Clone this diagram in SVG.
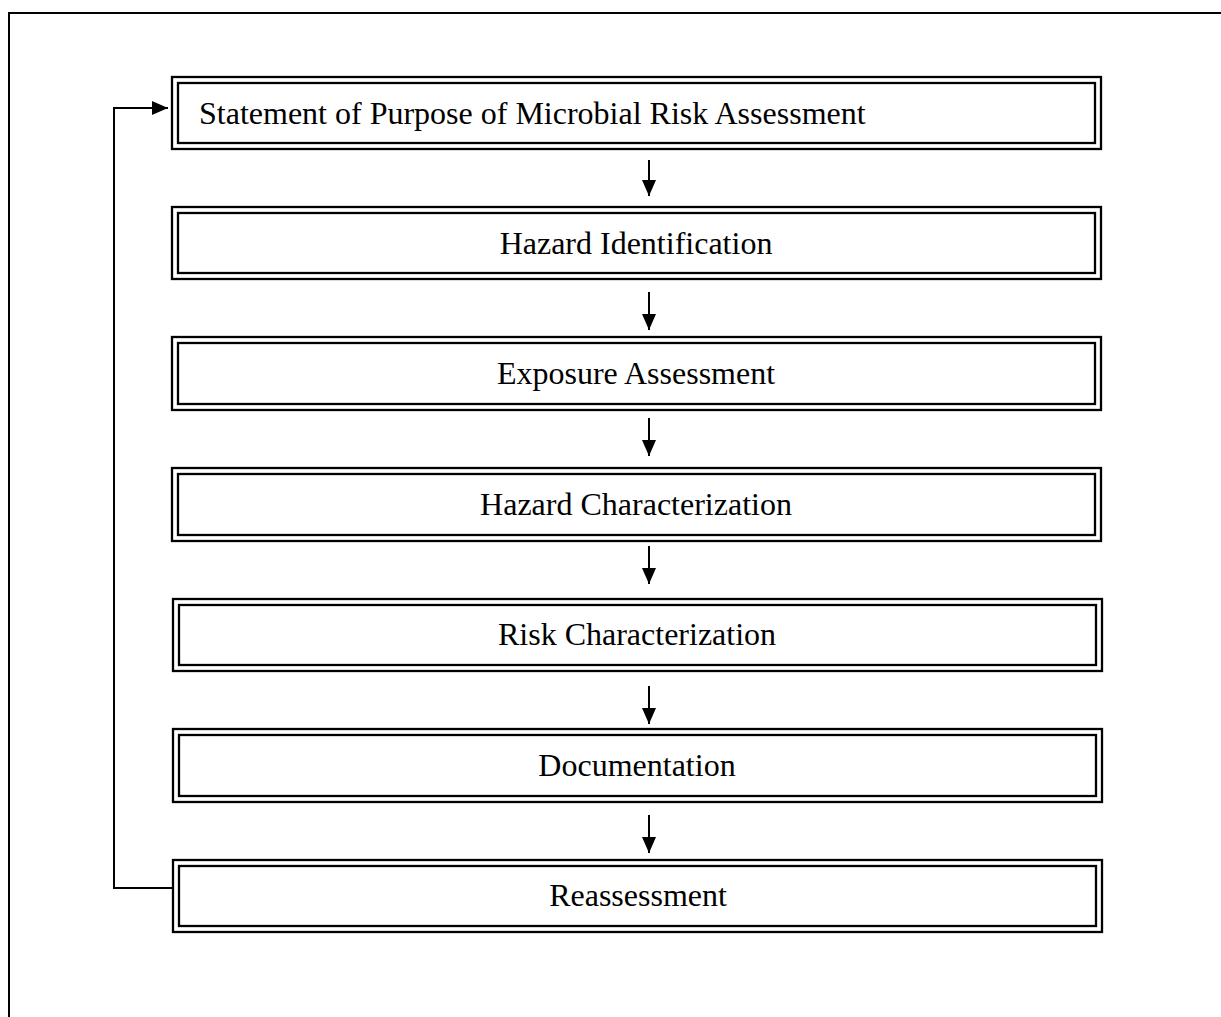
<svg xmlns="http://www.w3.org/2000/svg" width="1221" height="1017" viewBox="0 0 1221 1017">
  <style>
    .frame { fill: none; stroke: #000; stroke-width: 2; }
    .outer { fill: #fff; stroke: #000; stroke-width: 2.3; }
    .inner { fill: none; stroke: #000; stroke-width: 2.3; }
    .label { font-family: "Liberation Serif", "Times New Roman", serif; font-size: 32px; fill: #000; }
    .mid { text-anchor: middle; }
    .link { fill: none; stroke: #000; stroke-width: 2; }
  </style>
  <defs>
    <marker id="arrow" viewBox="0 0 16 14" refX="16" refY="7" markerWidth="16" markerHeight="14" markerUnits="userSpaceOnUse" orient="auto">
      <path d="M0,0 L16,7 L0,14 Z" fill="#000"/>
    </marker>
  </defs>

  <rect width="1221" height="1017" fill="#fff"/>

  <!-- page frame, open at the bottom -->
  <path class="frame" d="M9,1017 V13 H1221"/>

  <g id="node-purpose">
    <rect class="outer" x="172" y="77" width="929" height="72"/>
    <rect class="inner" x="178" y="83" width="917" height="60"/>
    <text class="label" x="199" y="124">Statement of Purpose of Microbial Risk Assessment</text>
  </g>
  <g id="node-hazard-id">
    <rect class="outer" x="172" y="207" width="929" height="72"/>
    <rect class="inner" x="178" y="213" width="917" height="60"/>
    <text class="label mid" x="636" y="254">Hazard Identification</text>
  </g>
  <g id="node-exposure">
    <rect class="outer" x="172" y="337" width="929" height="73"/>
    <rect class="inner" x="178" y="343" width="917" height="61"/>
    <text class="label mid" x="636" y="384">Exposure Assessment</text>
  </g>
  <g id="node-hazard-char">
    <rect class="outer" x="172" y="468" width="929" height="73"/>
    <rect class="inner" x="178" y="474" width="917" height="61"/>
    <text class="label mid" x="636" y="515">Hazard Characterization</text>
  </g>
  <g id="node-risk-char">
    <rect class="outer" x="173" y="599" width="929" height="72"/>
    <rect class="inner" x="179" y="605" width="917" height="60"/>
    <text class="label mid" x="637" y="645">Risk Characterization</text>
  </g>
  <g id="node-documentation">
    <rect class="outer" x="173" y="729" width="929" height="73"/>
    <rect class="inner" x="179" y="735" width="917" height="61"/>
    <text class="label mid" x="637" y="776">Documentation</text>
  </g>
  <g id="node-reassessment">
    <rect class="outer" x="173" y="860" width="929" height="72"/>
    <rect class="inner" x="179" y="866" width="917" height="60"/>
    <text class="label mid" x="638" y="906">Reassessment</text>
  </g>

  <g id="connectors">
    <line class="link" x1="649" y1="160" x2="649" y2="196" marker-end="url(#arrow)"/>
    <line class="link" x1="649" y1="292" x2="649" y2="330" marker-end="url(#arrow)"/>
    <line class="link" x1="649" y1="418" x2="649" y2="456" marker-end="url(#arrow)"/>
    <line class="link" x1="649" y1="546" x2="649" y2="584" marker-end="url(#arrow)"/>
    <line class="link" x1="649" y1="686" x2="649" y2="724" marker-end="url(#arrow)"/>
    <line class="link" x1="649" y1="815" x2="649" y2="853" marker-end="url(#arrow)"/>
    <!-- feedback loop from reassessment back to the purpose statement -->
    <path class="link" d="M173,888 H114 V108 H168" marker-end="url(#arrow)"/>
  </g>
</svg>
